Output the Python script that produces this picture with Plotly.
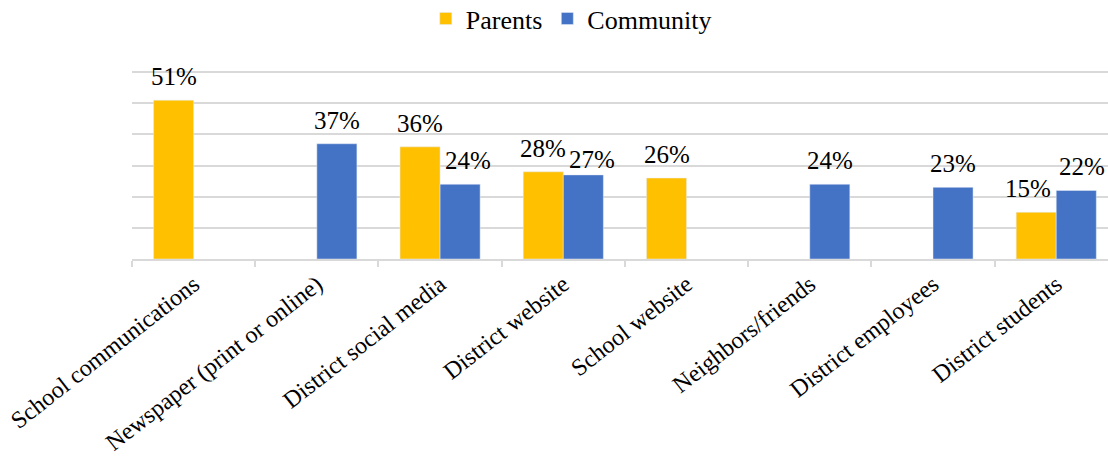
import plotly.graph_objects as go

categories = ["School communications", "Newspaper (print or online)", "District social media",
              "District website", "School website", "Neighbors/friends",
              "District employees", "District students"]
parents = [51, None, 36, 28, 26, None, None, 15]
community = [None, 37, 24, 27, None, 24, 23, 22]

FONT = "Liberation Serif, Times New Roman, serif"
BARGAP = 0.35
BAR_PX = 40  # approx. pixel width of a single bar (for label offsets)
# small pixel nudges of crowded data labels, as in the original (dx, dy)
LABEL_NUDGE = {
    ("Community", "District social media"): (8, 0),
    ("Community", "District website"): (9, -8),
    ("Parents", "District students"): (-8, 0),
    ("Community", "District students"): (6, 0),
}

fig = go.Figure()
fig.add_trace(go.Bar(name="Parents", x=categories, y=parents, marker_color="#FFC000"))
fig.add_trace(go.Bar(name="Community", x=categories, y=community, marker_color="#4472C4"))

annotations = []
for name, vals, side in (("Parents", parents, -1), ("Community", community, 1)):
    for cat, v in zip(categories, vals):
        if v is None:
            continue
        dx, dy = LABEL_NUDGE.get((name, cat), (0, 0))
        annotations.append(dict(x=cat, y=v, xref="x", yref="y", text=f"{v}%",
                                showarrow=False, xanchor="center", yanchor="bottom",
                                xshift=side * BAR_PX / 2 + dx, yshift=8 + dy,
                                font=dict(family=FONT, size=25, color="black")))

fig.update_layout(
    width=1108, height=458,
    margin=dict(l=132, r=0, t=69, b=199, autoexpand=False),
    barmode="group", bargap=BARGAP, bargroupgap=0,
    plot_bgcolor="white", paper_bgcolor="white",
    font=dict(family=FONT, color="black"),
    legend=dict(orientation="h", x=0.301, xanchor="left", y=1.389, yanchor="top",
                font=dict(family=FONT, size=26, color="black"), traceorder="normal"),
    annotations=annotations,
    hovermode=False,
)
fig.update_xaxes(type="category", range=[-0.5, 7.42], showline=True, linecolor="#d9d9d9",
                 linewidth=2, ticks="outside", tickson="boundaries", ticklen=6,
                 tickcolor="#d9d9d9", tickwidth=2, tickangle=-38, automargin=False,
                 tickfont=dict(family=FONT, size=24, color="black"), showgrid=False)
fig.update_yaxes(range=[0, 61], tick0=0, dtick=10, showticklabels=False, showgrid=True,
                 gridcolor="#d9d9d9", gridwidth=2, zeroline=False, showline=False,
                 automargin=False)

fig.write_html("out.html", config={"displayModeBar": False},
               post_script="document.body.style.margin='0';document.body.style.overflow='hidden';")
